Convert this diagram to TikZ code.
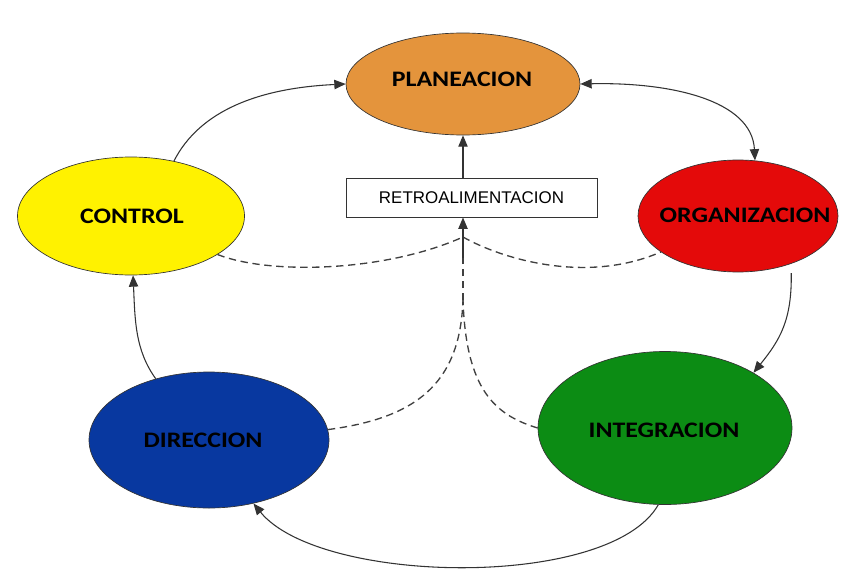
\documentclass[tikz,border=0pt]{standalone}
\usepackage{fontspec}
\setmainfont{Liberation Sans}
\newfontfamily\labelfont{Carlito}
\usetikzlibrary{shapes.geometric,arrows.meta,calc}

\definecolor{cPlan}{RGB}{228,148,60}
\definecolor{cOrg}{RGB}{228,10,10}
\definecolor{cCtrl}{RGB}{255,242,0}
\definecolor{cDir}{RGB}{8,56,160}
\definecolor{cInt}{RGB}{12,140,20}

% label of a phase: #1 horizontal offset (twice the shift), #2 baseline lift, #3 text
\newcommand\phasetext[3]{\makebox[0pt]{\hspace{#1}\raisebox{#2}[0pt][0pt]{\scalebox{1.17}[1]{#3}}}}

\begin{document}
\begin{tikzpicture}[x=0.75pt,y=-0.75pt,
  phase/.style={ellipse, draw=black!80, line width=0.5pt, inner sep=0pt,
    font=\labelfont\bfseries\fontsize{16.6}{18}\selectfont, text=black},
  tip/.tip={Triangle[length=8.5pt,width=7pt]},
  flow/.style={draw=black!80, line width=0.8pt, -tip},
  feedback/.style={draw=black!75, line width=1pt, dash pattern=on 5.5pt off 3.5pt},
]
\useasboundingbox (0,0) rectangle (846,578);

% the five phases
\node[phase, fill=cPlan, minimum width=175.5pt, minimum height=76.5pt] (plan) at (463,84)
  {\phasetext{-1.5pt}{-1.6pt}{PLANEACION}};
\node[phase, fill=cOrg, minimum width=150pt, minimum height=84pt] (org) at (738,216)
  {\phasetext{10.5pt}{-4.6pt}{ORGANIZACION}};
\node[phase, fill=cCtrl, minimum width=170.25pt, minimum height=88.5pt] (ctrl) at (131,216)
  {\phasetext{1.5pt}{-5.36pt}{CONTROL}};
\node[phase, fill=cDir, minimum width=180pt, minimum height=102pt] (dir) at (209,440)
  {\phasetext{-9pt}{-5.36pt}{DIRECCION}};
\node[phase, fill=cInt, minimum width=190.5pt, minimum height=114.75pt] (int) at (665,428)
  {\phasetext{-1.5pt}{-6.9pt}{INTEGRACION}};

% feedback box
\node[draw=black!80, line width=0.75pt, fill=white, minimum width=188.25pt, minimum height=29.25pt,
  inner sep=0pt, font=\fontsize{12.7}{14}\selectfont] (fb) at (471.5,197.5) {RETROALIMENTACION};

% junctions of the feedback lines
\coordinate (jt) at (463,237);
\coordinate (jb) at (463,258);
\coordinate (js) at (463,300);

% main cycle
\draw[flow] (ctrl.52) .. controls (200,110) and (260,88) .. (plan.west);
\draw[flow, tip-tip]
  (plan.east) .. controls (670,82) and (752,100) .. (org.73);
\draw[flow, shorten <=7pt] (org.-42) .. controls (792,320) and (780,340) .. (int.32);
\draw[flow] (int.-95) .. controls (610,590) and (320,585) .. (dir.-55);
\draw[flow] (dir.131) .. controls (135,350) and (135,320) .. (ctrl.-88);

% feedback lines
\draw[feedback] (ctrl.-24) .. controls (270,275) and (385,272) .. (jt);
\draw[feedback] (jt) .. controls (500,258) and (585,285) .. (org.205);
\draw[feedback] (dir.5) .. controls (415,418) and (460,385) .. (js);
\draw[feedback] (int.west) .. controls (495,415) and (466,390) .. (js);
\draw[feedback] (js) -- (jb);
\draw[flow] (jb) -- (jb |- fb.south);
\draw[flow] (plan.south |- fb.north) -- (plan.south);
\end{tikzpicture}
\end{document}
